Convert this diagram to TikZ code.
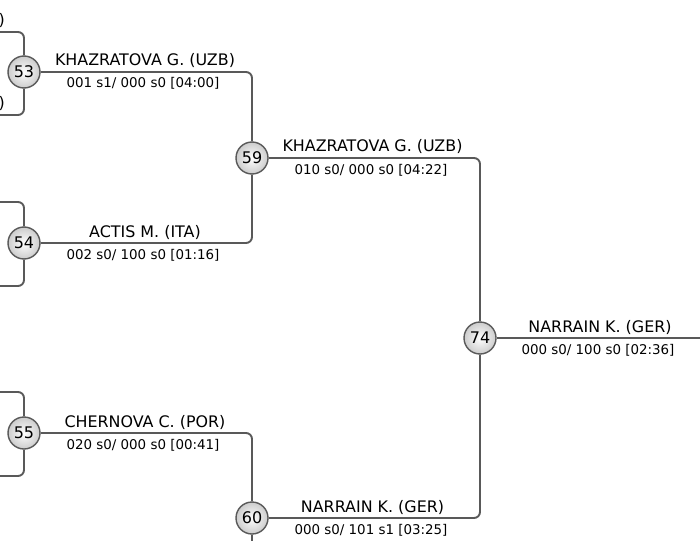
\documentclass[tikz,border=0pt]{standalone}
\usepackage{fontspec}
\setmainfont{DejaVu Sans}
\tikzset{
  match/.style ={draw=black!65, circle, minimum size=32pt, inner sep=0pt, line width=1.4pt,
                 inner color=white, outer color=black!20, font=\fontsize{16}{17}\selectfont},
  link/.style  ={draw=black!65, line width=1.9pt, rounded corners=6pt},       % bracket line
  winner/.style={anchor=base, inner sep=0pt, font=\fontsize{15.9}{17}\selectfont},
  score/.style ={anchor=base, inner sep=0pt, font=\fontsize{13.4}{14}\selectfont},
}

\begin{document}
\begin{tikzpicture}[x=1pt, y=-1pt]
  \useasboundingbox (0,0) rectangle (700,540);
  \clip (0,0) rectangle (700,540);

  % matches
  \node[match] (m53) at (24,72)   {53};
  \node[match] (m54) at (24,243)  {54};
  \node[match] (m55) at (24,433)  {55};
  \node[match] (m59) at (252,158) {59};
  \node[match] (m60) at (252,518) {60};
  \node[match] (m74) at (480,338) {74};

  % feeders and exit, outside the frame
  \coordinate (in53a) at (-60,32);
  \coordinate (in53b) at (-60,115);
  \coordinate (in54a) at (-60,202);
  \coordinate (in54b) at (-60,286);
  \coordinate (in55a) at (-60,392);
  \coordinate (in55b) at (-60,476);
  \coordinate (m56)   at (24,603);
  \coordinate (next74) at (720,338);

  \draw[link] (m53) |- (in53a);
  \draw[link] (m53) |- (in53b);
  \draw[link] (m54) |- (in54a);
  \draw[link] (m54) |- (in54b);
  \draw[link] (m55) |- (in55a);
  \draw[link] (m55) |- (in55b);
  \draw[link] (m53) -| (m59);
  \draw[link] (m54) -| (m59);
  \draw[link] (m55) -| (m60);
  \draw[link] (m56) -| (m60);
  \draw[link] (m59) -| (m74);
  \draw[link] (m60) -| (m74);
  \draw[link] (m74) -- (next74);

  % cut-off labels of the previous round
  \node[winner, anchor=base east] (w53a) at (5,26)  {)};
  \node[winner, anchor=base east] (w53b) at (5,109) {)};

  % winners and scores
  \node[winner] (w53) at (145,66)  {KHAZRATOVA G. (UZB)};
  \node[score]  (s53) at (143,88)  {001 s1/ 000 s0 [04:00]};
  \node[winner] (w54) at (145,237) {ACTIS M. (ITA)};
  \node[score]  (s54) at (143,259) {002 s0/ 100 s0 [01:16]};
  \node[winner] (w55) at (145,427) {CHERNOVA C. (POR)};
  \node[score]  (s55) at (143,449) {020 s0/ 000 s0 [00:41]};
  \node[winner] (w59) at (372.5,152) {KHAZRATOVA G. (UZB)};
  \node[score]  (s59) at (371,174)   {010 s0/ 000 s0 [04:22]};
  \node[winner] (w60) at (372.5,512) {NARRAIN K. (GER)};
  \node[score]  (s60) at (371,534)   {000 s0/ 101 s1 [03:25]};
  \node[winner] (w74) at (600,332) {NARRAIN K. (GER)};
  \node[score]  (s74) at (598,354) {000 s0/ 100 s0 [02:36]};
\end{tikzpicture}
\end{document}
